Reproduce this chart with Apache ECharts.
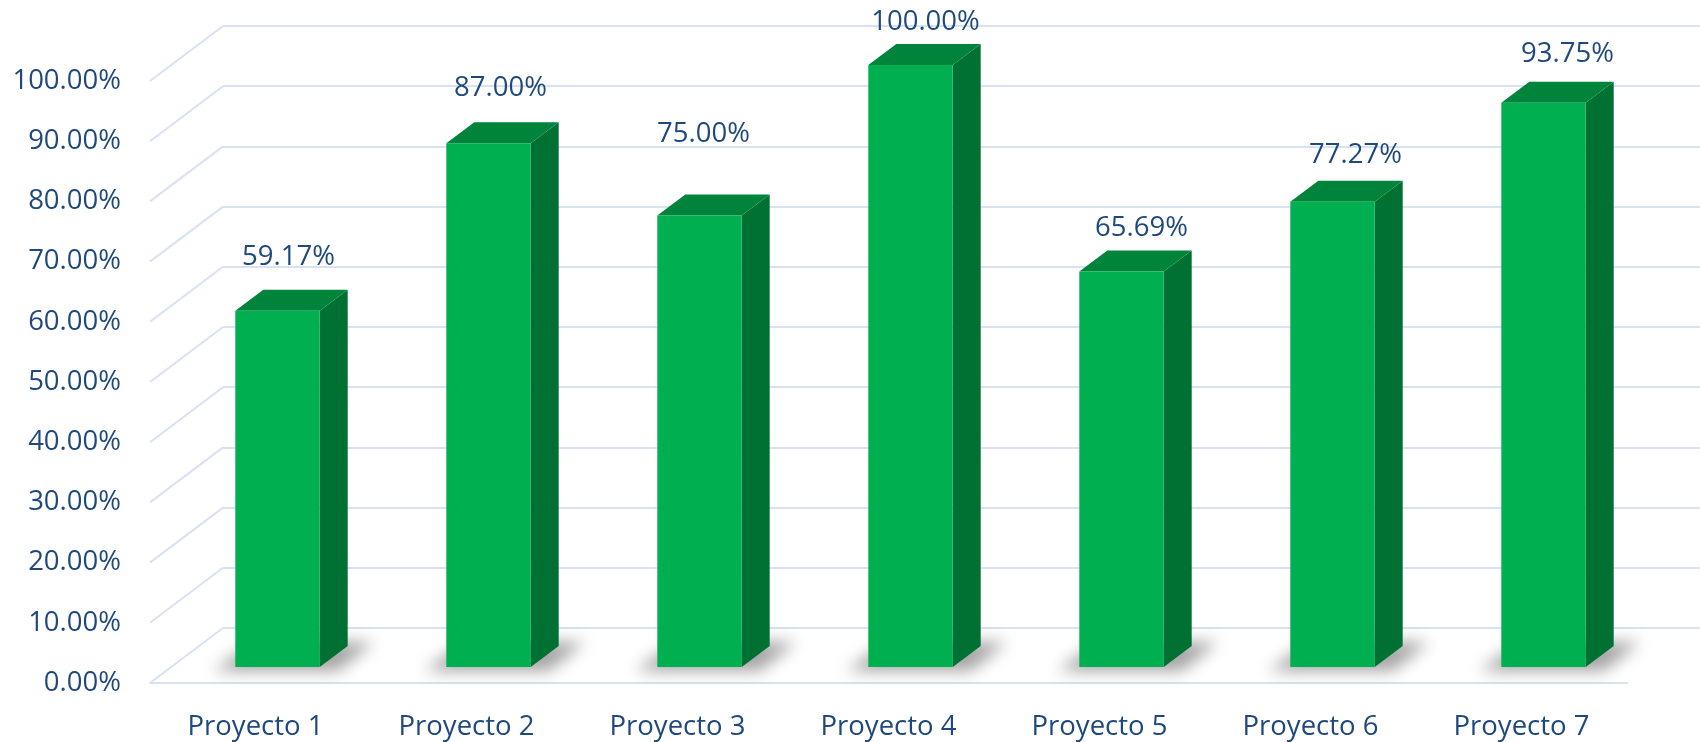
<!DOCTYPE html>
<html><head><meta charset="utf-8">
<script src="https://cdn.jsdelivr.net/npm/echarts@6/dist/echarts.min.js"></script>
<style>html,body{margin:0;padding:0;background:#fff}#c{width:1700px;height:742px}</style>
</head><body><div id="c"></div>
<script>
const categories = ['Proyecto 1', 'Proyecto 2', 'Proyecto 3', 'Proyecto 4', 'Proyecto 5', 'Proyecto 6', 'Proyecto 7'];
const values = [59.17, 87.00, 75.00, 100.00, 65.69, 77.27, 93.75];
const yTicks = [0, 10, 20, 30, 40, 50, 60, 70, 80, 90, 100];

// label nudges relative to each bar's front-top centre (layout/style, px)
const labelNudgeX = [11, 12, 4, 15, 20, 23, 24];
const labelNudgeY = [-54, -55, -81, -43, -43, -47, -48];

const FONT = '"Open Sans", sans-serif';
const FS = 27.5;
const TXT = '#1F497D';
const GRID = '#D9E2F3';
const WALL_DX = 73, WALL_DY = 55;   // floor depth (front edge to back wall)
const BAR_OX = 22, BAR_OY = 16;     // bar front plane behind floor front edge
const BAR_DX = 28, BAR_DY = 21;     // bar depth
const OFF = 3000;

const chart = echarts.init(document.getElementById('c'), null, {renderer: 'canvas'});

const option = {
  animation: false,
  backgroundColor: '#ffffff',
  grid: [
    {left: 150, right: 73, top: 81, bottom: 59},
    {left: 223, right: 0, top: 26, bottom: 114}
  ],
  xAxis: [
    {type: 'category', gridIndex: 0, data: categories,
      axisLine: {lineStyle: {color: GRID, width: 2}},
      axisTick: {show: false}, splitLine: {show: false},
      axisLabel: {color: TXT, fontSize: FS, fontFamily: FONT, margin: 30}},
    {type: 'category', gridIndex: 1, data: categories, show: false}
  ],
  yAxis: [
    {type: 'value', gridIndex: 0, min: 0, max: 100, interval: 10,
      axisLine: {show: false}, axisTick: {show: false}, splitLine: {show: false},
      axisLabel: {color: TXT, fontSize: FS, fontFamily: FONT, margin: 29,
        formatter: v => v.toFixed(2) + '%'}},
    {type: 'value', gridIndex: 1, min: 0, max: 100, interval: 10,
      axisLine: {show: false}, axisTick: {show: false}, axisLabel: {show: false},
      splitLine: {show: true, lineStyle: {color: GRID, width: 2}}}
  ],
  series: [
    {
      type: 'custom', xAxisIndex: 0, yAxisIndex: 0, silent: true,
      data: yTicks.map(v => [0, v]),
      renderItem: function (params, api) {
        const p = api.coord([0, api.value(1)]);
        const x = params.coordSys.x;
        return {type: 'line', shape: {x1: x, y1: p[1], x2: x + WALL_DX, y2: p[1] - WALL_DY},
          style: {stroke: GRID, lineWidth: 2}};
      },
      z: 1
    },
    {
      type: 'custom', xAxisIndex: 0, yAxisIndex: 0, silent: true,
      data: values.map((v, i) => [i, v]),
      renderItem: function (params, api) {
        const i = api.value(0), v = api.value(1);
        const top = api.coord([i, v]);
        const base = api.coord([i, 0]);
        const band = api.size([1, 0])[0];
        const w = band * 0.40;
        const cx = top[0] + BAR_OX;
        const x0 = cx - w / 2, x1 = cx + w / 2;
        const yT = top[1] - BAR_OY, yB = base[1] - BAR_OY;
        const dx = BAR_DX, dy = BAR_DY;
        return {
          type: 'group',
          children: [
            {type: 'polygon',
              shape: {points: [[x0 - 22 - OFF, yB + 4], [x1 + 18 - OFF, yB + 4], [x1 + dx + 26 - OFF, yB - dy - 4], [x0 + dx - 8 - OFF, yB - dy - 4]]},
              style: {fill: 'rgba(0,0,0,0.6)', shadowBlur: 16, shadowColor: 'rgba(0,0,0,0.6)', shadowOffsetX: OFF, shadowOffsetY: 0}},
            {type: 'polygon',
              shape: {points: [[x1, yT], [x1 + dx, yT - dy], [x1 + dx, yB - dy], [x1, yB]]},
              style: {fill: '#007033'}},
            {type: 'polygon',
              shape: {points: [[x0, yT], [x0 + dx, yT - dy], [x1 + dx, yT - dy], [x1, yT]]},
              style: {fill: '#00843C'}},
            {type: 'rect', shape: {x: x0, y: yT, width: w, height: yB - yT},
              style: {fill: '#00B050'}},
            {type: 'text',
              style: {text: v.toFixed(2) + '%', x: cx + labelNudgeX[i], y: yT + labelNudgeY[i], fill: TXT,
                font: FS + 'px ' + FONT, align: 'center', verticalAlign: 'middle'}}
          ]
        };
      },
      z: 3
    }
  ]
};
chart.setOption(option);
</script>
</body></html>
